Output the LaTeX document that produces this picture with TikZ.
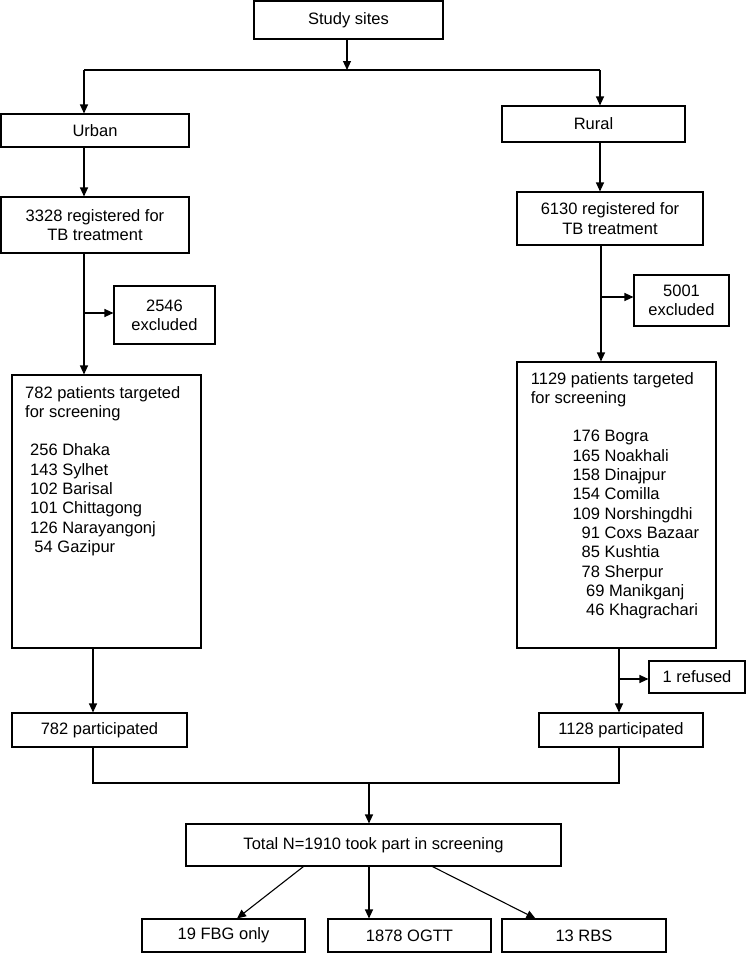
\documentclass[tikz,border=0pt]{standalone}
\usepackage{fontspec}
\setmainfont{Liberation Sans}
\usetikzlibrary{arrows.meta,calc}
\begin{document}
\begin{tikzpicture}[x=1pt,y=-1pt,
  box/.style={draw,line width=1.1pt,inner sep=0pt,align=center},
  arr/.style={-{Triangle[length=9pt,width=8pt]},line width=1.1pt},
  ln/.style={line width=1.1pt},
  every node/.style={font=\fontsize{16.5}{19.3}\selectfont}]
\useasboundingbox (0,0) rectangle (746,953);
% boxes
\node[box,minimum width=189,minimum height=38] (study) at (348.5,20) {Study sites};
\node[box,minimum width=188,minimum height=33] (urban) at (95,130.5) {Urban};
\node[box,minimum width=183,minimum height=36] (rural) at (593.5,124) {Rural};
\node[box,minimum width=188,minimum height=56] (regu) at (95,225) {3328 registered for\\TB treatment};
\node[box,minimum width=186,minimum height=53] (regr) at (610,218.5) {6130 registered for\\TB treatment};
\node[box,minimum width=101,minimum height=58] (excu) at (164.5,315) {2546\\excluded};
\node[box,minimum width=95,minimum height=51] (excr) at (681.5,300.5) {5001\\excluded};
\node[box,minimum width=189,minimum height=273] (tgtu) at (106.5,511.5) {};
\node[box,minimum width=199,minimum height=286] (tgtr) at (616.5,505) {};
\node[anchor=base west,inner sep=0pt] (tgtutext) at (25,398) {\begin{tabular}[t]{@{}l@{}}
782 patients targeted\\
for screening\\
\\
\hspace*{5pt}256 Dhaka\\
\hspace*{5pt}143 Sylhet\\
\hspace*{5pt}102 Barisal\\
\hspace*{5pt}101 Chittagong\\
\hspace*{5pt}126 Narayangonj\\
\hspace*{9.3pt}54 Gazipur
\end{tabular}};
\node[anchor=base west,inner sep=0pt] (tgtrtext) at (530.7,384) {\begin{tabular}[t]{@{}l@{}}
1129 patients targeted\\
for screening\\
\\
\hspace*{41.6pt}176 Bogra\\
\hspace*{41.6pt}165 Noakhali\\
\hspace*{41.6pt}158 Dinajpur\\
\hspace*{41.6pt}154 Comilla\\
\hspace*{41.6pt}109 Norshingdhi\\
\hspace*{50.8pt}91 Coxs Bazaar\\
\hspace*{50.8pt}85 Kushtia\\
\hspace*{50.8pt}78 Sherpur\\
\hspace*{55.2pt}69 Manikganj\\
\hspace*{55.2pt}46 Khagrachari
\end{tabular}};
\node[box,minimum width=96,minimum height=32] (ref) at (697,677) {1 refused};
\node[box,minimum width=175,minimum height=34] (paru) at (99.5,730) {782 participated};
\node[box,minimum width=164,minimum height=34] (parr) at (621,730) {1128 participated};
\node[box,minimum width=375,minimum height=42] (total) at (373.5,845) {Total N=1910 took part in screening};
\node[box,minimum width=163,minimum height=33] (fbg) at (223.5,935.5) {19 FBG only};
\node[box,minimum width=163,minimum height=33] (ogtt) at (409.5,935.5) {1878 OGTT};
\node[box,minimum width=164,minimum height=33] (rbs) at (584,935.5) {13 RBS};
% coordinates
\coordinate (split) at (347,70);
\coordinate (tl) at (84,70);
\coordinate (tr) at (600,70);
\coordinate (rx) at (601,0);
\coordinate (lx2) at (93,0);
\coordinate (rx2) at (619,0);
\coordinate (mj) at (369,783);
% connectors
\draw[arr] (study.south -| split) -- (split);
\draw[ln] (tl) -- (tr);
\draw[arr] (tl) -- (tl |- urban.north);
\draw[arr] (tr) -- (tr |- rural.north);
\draw[arr] (urban.south -| tl) -- (tl |- regu.north);
\draw[arr] (rural.south -| tr) -- (tr |- regr.north);
\draw[arr] (regu.south -| tl) -- (tl |- tgtu.north);
\draw[arr] ($(tl |- excu.west)+(0,-2)$) -- ($(excu.west)+(0,-2)$);
\draw[arr] (regr.south -| rx) -- (rx |- tgtr.north);
\draw[arr] ($(rx |- excr.west)+(0,-3.5)$) -- ($(excr.west)+(0,-3.5)$);
\draw[arr] (tgtu.south -| lx2) -- (lx2 |- paru.north);
\draw[arr] (tgtr.south -| rx2) -- (rx2 |- parr.north);
\draw[arr] ($(rx2 |- ref.west)+(0,2)$) -- ($(ref.west)+(0,2)$);
\draw[ln] (paru.south -| lx2) |- (mj) -| (parr.south -| rx2);
\draw[arr] (mj) -- (mj |- total.north);
\draw[arr] ($(total.south west)+(118,0)$) -- ($(fbg.north)+(13.5,0)$);
\draw[arr] (total.south -| mj) -- (mj |- ogtt.north);
\draw[arr] ($(total.south west)+(247,0)$) -- ($(rbs.north west)+(34,0)$);
\end{tikzpicture}
\end{document}
